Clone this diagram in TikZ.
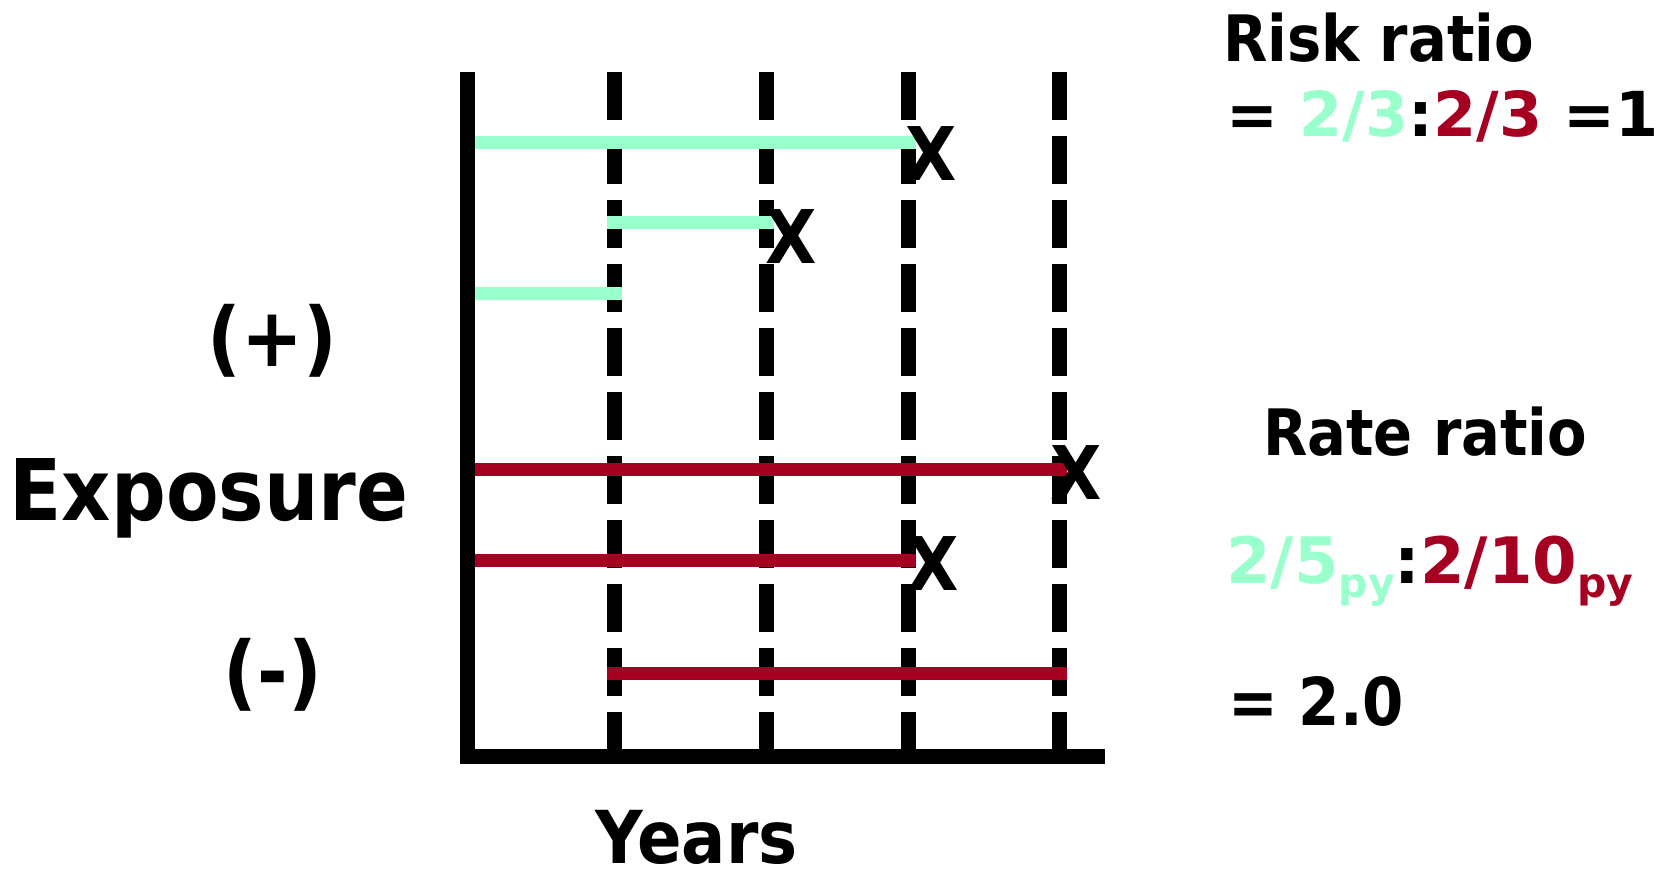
\documentclass[tikz,border=0pt]{standalone}
\usepackage{fontspec}
\usepackage{xcolor}
\usetikzlibrary{positioning}
\newfontfamily\chartfont{DejaVu Sans Bold}[FakeStretch=0.9]
\newfontfamily\chartwide{DejaVu Sans Bold}
\definecolor{exposedgreen}{RGB}{153,255,204}
\definecolor{unexposedred}{RGB}{165,0,33}
\newcommand{\pysub}{\raisebox{-14pt}{\fontsize{41}{41}\selectfont py}}
\tikzset{
  axisline/.style={line width=15pt},
  gridline/.style={line width=15pt, dash pattern=on 48pt off 16pt},
  exposedspan/.style={line width=13pt, draw=exposedgreen},
  unexposedspan/.style={line width=13pt, draw=unexposedred},
  eventmark/.style={inner sep=0pt, font=\chartfont\fontsize{74}{74}\selectfont},
  sidelabel/.style={inner sep=0pt, anchor=base, font=\chartfont\fontsize{82}{82}\selectfont},
  ratiolabel/.style={inner sep=0pt, anchor=base west, font=\chartfont\fontsize{64}{64}\selectfont},
  ratiovalue/.style={inner sep=0pt, anchor=base west, font=\chartfont\fontsize{66}{66}\selectfont}
}

\begin{document}
\begin{tikzpicture}[x=1pt, y=-1pt]
\useasboundingbox (0,0) rectangle (1672,871);
\coordinate (ytop) at (467,72);
\coordinate (xend) at (1105,756);

% yearly grid
\foreach \xx in {614,766,908,1059}
  \draw[gridline] (\xx,72) -- (\xx,756);

% follow-up of exposed persons
\draw[exposedspan] (467,142) -- (915.5,142);
\draw[exposedspan] (606.5,222) -- (773.5,222);
\draw[exposedspan] (467,293.5) -- (621.5,293.5);

% follow-up of unexposed persons
\draw[unexposedspan] (467,469) -- (1066.5,469);
\draw[unexposedspan] (467,560) -- (915.5,560);
\draw[unexposedspan] (606.5,673) -- (1066.5,673);

\draw[axisline] (ytop) |- (xend);

% events
\node[eventmark] (ev1) at (931,154) {X};
\node[eventmark] (ev2) at (791,236.5) {X};
\node[eventmark] (ev3) at (1076,473) {X};
\node[eventmark] (ev4) at (933,564) {X};

% axis labels
\node[sidelabel] (plus) at (272.5,366) {(+)};
\node[sidelabel, font=\chartfont\fontsize{85}{85}\selectfont] (exposure) at (209,520) {Exposure};
\node[sidelabel] (minus) at (273,700) {(-)};
\node[sidelabel, font=\chartfont\fontsize{73}{73}\selectfont] (years) at (696.5,863.5) {Years};

% ratios
\node[ratiolabel] (risk) at (1223,61) {Risk ratio};
\node[ratiovalue, font=\chartwide\fontsize{62}{62}\selectfont] (riskval) at (1226,136.5)
  {= \textcolor{exposedgreen}{2/3}:\textcolor{unexposedred}{2/3} =1};
\node[ratiolabel] (rate) at (1263,455) {Rate ratio};
\node[ratiovalue, font=\chartwide\fontsize{64}{64}\selectfont] (rateval) at (1226,583)
  {\textcolor{exposedgreen}{2/5\pysub}:\textcolor{unexposedred}{2/10\pysub}};
\node[ratiovalue] (rateres) at (1228,725) {= 2.0};
\end{tikzpicture}
\end{document}
